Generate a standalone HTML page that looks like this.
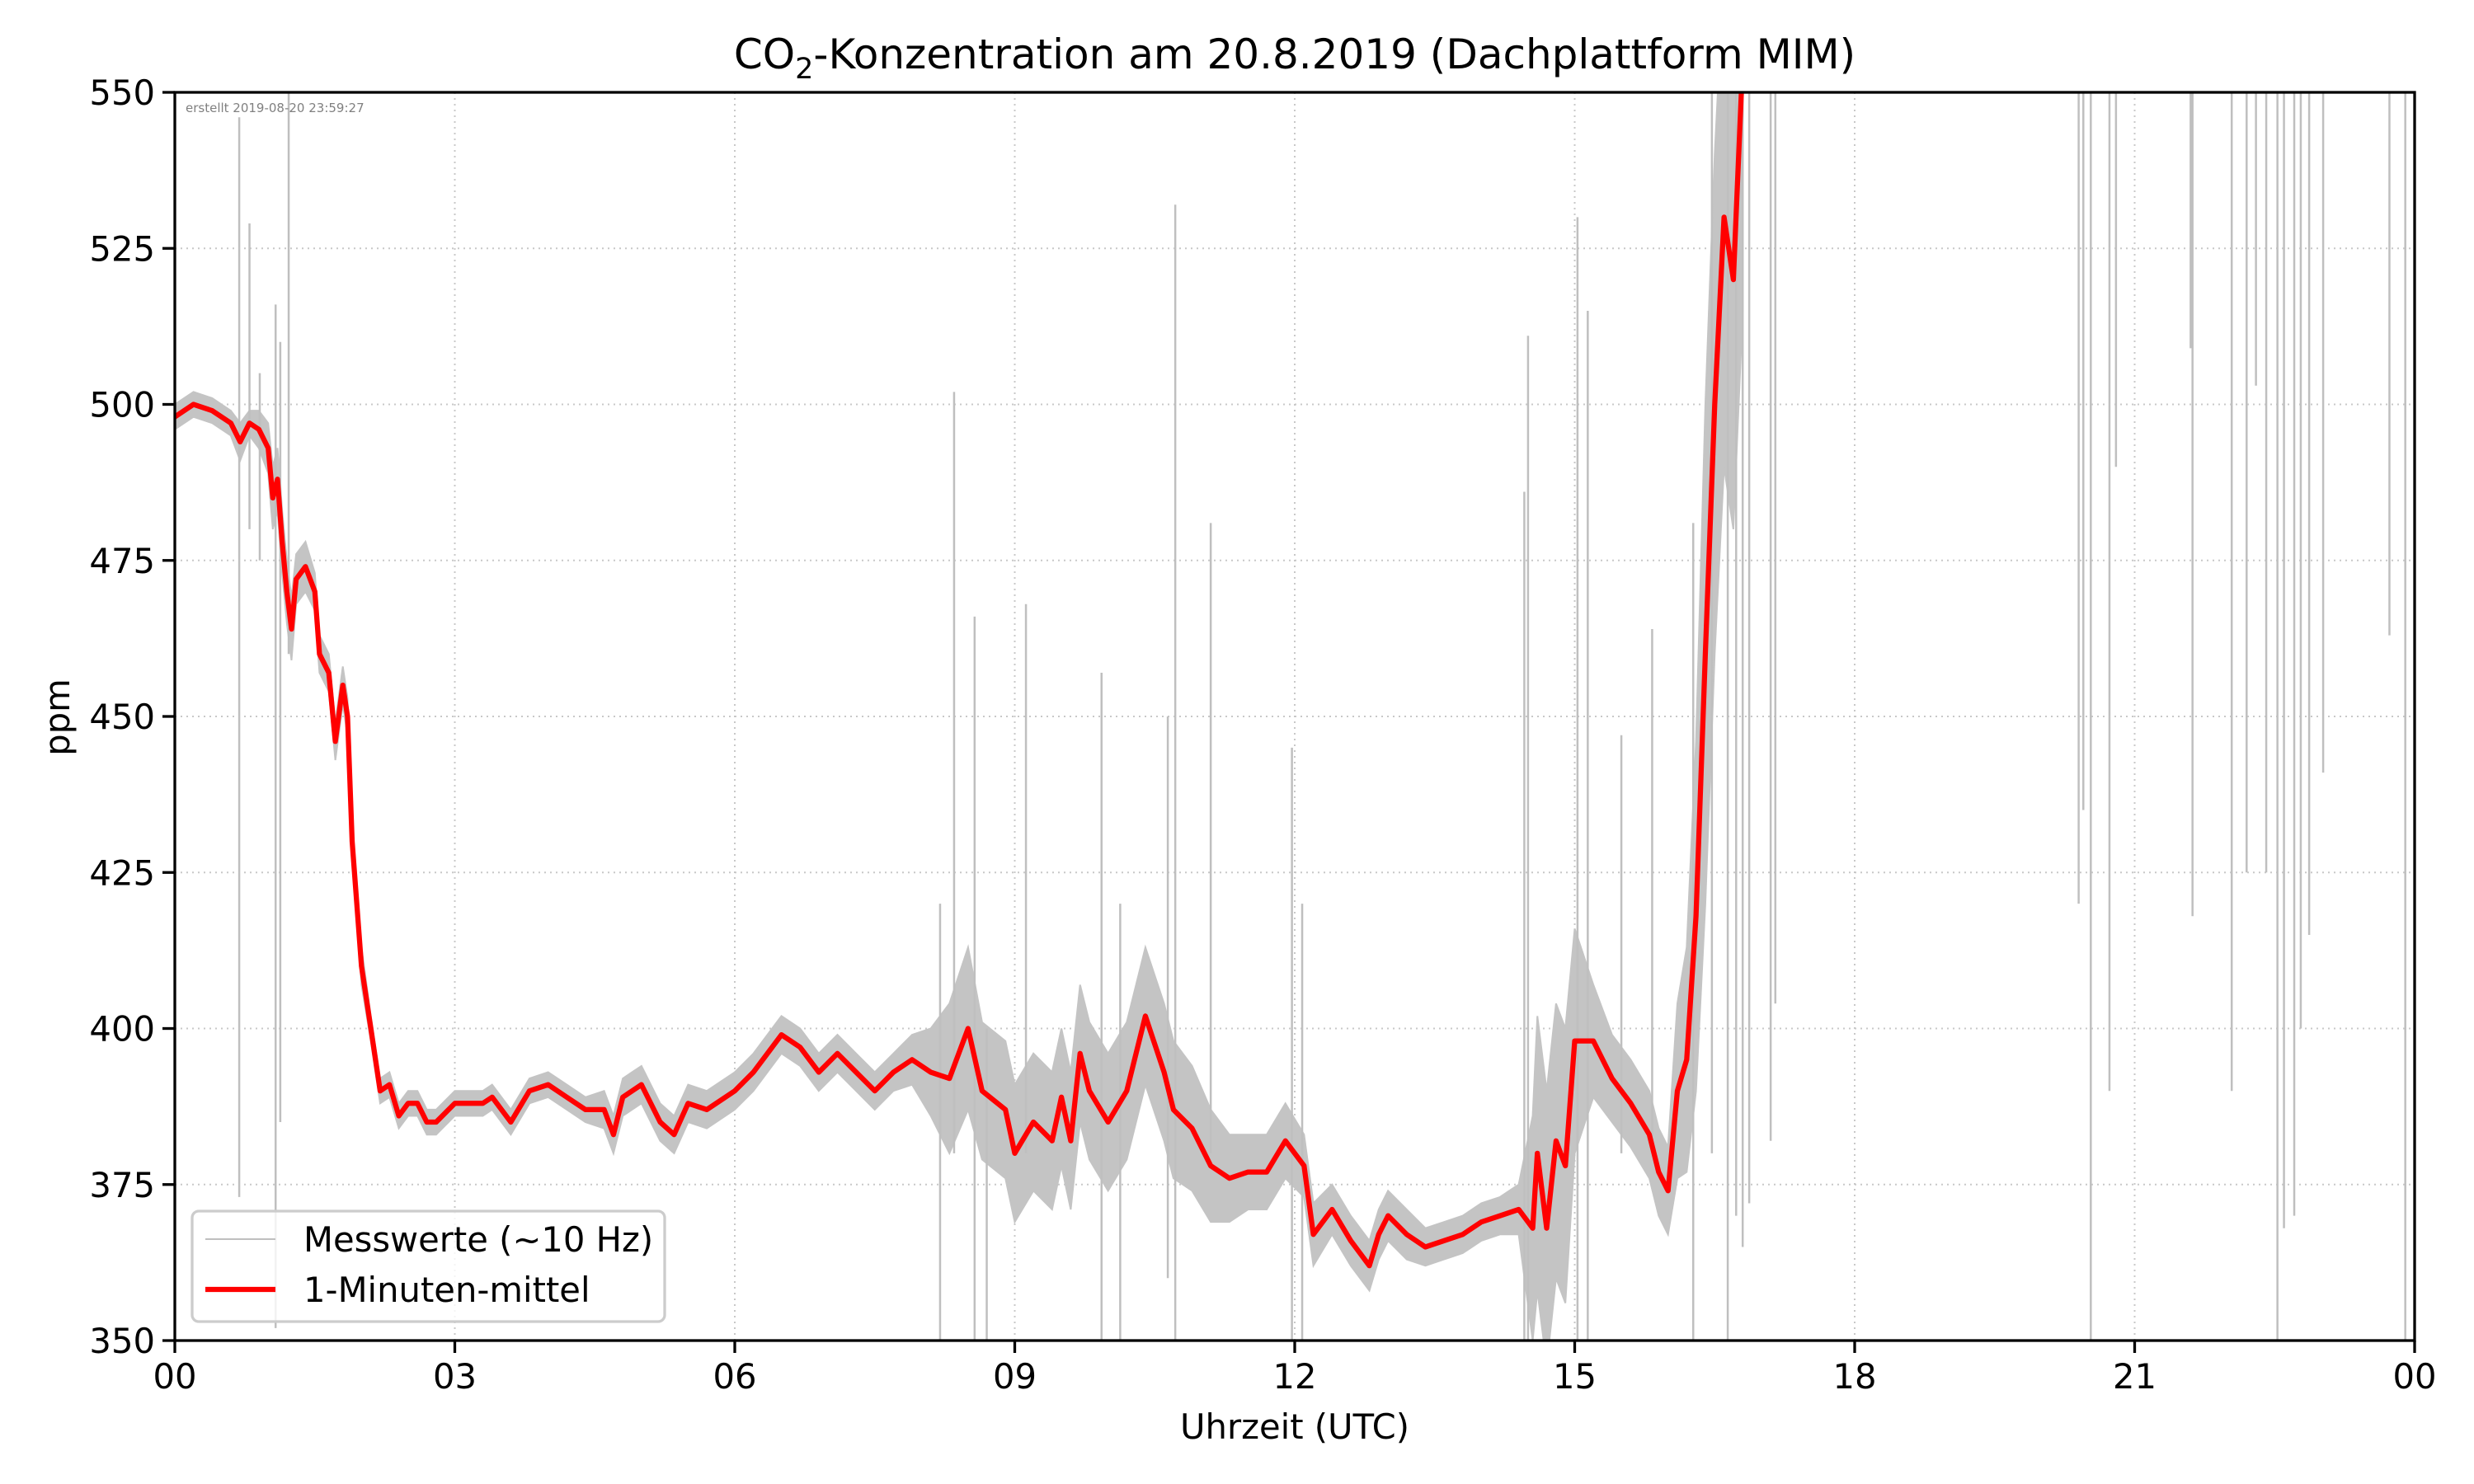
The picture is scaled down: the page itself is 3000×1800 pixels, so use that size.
<!DOCTYPE html>
<html><head><meta charset="utf-8"><style>
html,body{margin:0;padding:0;background:#fff}
svg{display:block;font-family:"DejaVu Sans","Liberation Sans",sans-serif}
</style></head><body>
<svg id="chart" width="3000" height="1800" viewBox="0 0 3000 1800" xmlns="http://www.w3.org/2000/svg">
<defs><clipPath id="clip"><rect x="212" y="112" width="2716" height="1514"/></clipPath></defs>
<rect width="3000" height="1800" fill="#fff"/>
<g id="grid"></g>
<g id="gray" clip-path="url(#clip)"></g>
<g id="red" clip-path="url(#clip)"></g>
<rect x="212" y="112" width="2716" height="1514" fill="none" stroke="#000" stroke-width="3.3"/>
<g id="ticks"></g>
<text x="225" y="136" font-size="15" fill="#808080">erstellt 2019-08-20 23:59:27</text>
<text x="1570" y="83" font-size="50" text-anchor="middle">CO<tspan font-size="35" dy="12">2</tspan><tspan dy="-12">-Konzentration am 20.8.2019 (Dachplattform MIM)</tspan></text>
<text x="1570" y="1745" font-size="41.7" text-anchor="middle">Uhrzeit (UTC)</text>
<text x="0" y="0" font-size="41.7" text-anchor="middle" transform="translate(84,870) rotate(-90)">ppm</text>
<g>
<rect x="233" y="1469" width="573" height="134" rx="8" fill="#fff" fill-opacity="0.8" stroke="#ccc" stroke-width="3.3"/>
<line x1="249" y1="1503" x2="334" y2="1503" stroke="#bfbfbf" stroke-width="2"/>
<text x="368" y="1518" font-size="41.7">Messwerte (~10 Hz)</text>
<line x1="249" y1="1564" x2="334" y2="1564" stroke="#ff0000" stroke-width="6.25"/>
<text x="368" y="1579" font-size="41.7">1-Minuten-mittel</text>
</g>
</svg>
<script>
const xTickLabels=["00","03","06","09","12","15","18","21","00"];
const xTickHours=[0,3,6,9,12,15,18,21,24];
const yTicks=[350,375,400,425,450,475,500,525,550];
const meanHours=[0,0.2,0.4,0.6,0.7,0.8,0.9,1.0,1.05,1.1,1.15,1.2,1.25,1.3,1.4,1.5,1.55,1.65,1.72,1.8,1.85,1.9,2.0,2.1,2.2,2.3,2.4,2.5,2.6,2.7,2.8,3.0,3.3,3.4,3.6,3.8,4.0,4.2,4.4,4.6,4.7,4.8,5.0,5.2,5.35,5.5,5.7,6.0,6.2,6.4,6.5,6.7,6.9,7.1,7.3,7.5,7.7,7.9,8.1,8.3,8.5,8.65,8.9,9.0,9.2,9.4,9.5,9.6,9.7,9.8,10.0,10.2,10.4,10.6,10.7,10.9,11.1,11.3,11.5,11.7,11.9,12.1,12.2,12.4,12.6,12.8,12.9,13.0,13.2,13.4,13.6,13.8,14.0,14.2,14.4,14.55,14.6,14.7,14.8,14.9,15.0,15.2,15.4,15.6,15.8,15.9,16.0,16.1,16.2,16.3,16.4,16.5,16.6,16.7,16.8];
const meanPpm=[498,500,499,497,494,497,496,493,485,488,478,470,464,472,474,470,460,457,446,455,450,430,410,400,390,391,386,388,388,385,385,388,388,389,385,390,391,389,387,387,383,389,391,385,383,388,387,390,393,397,399,397,393,396,393,390,393,395,393,392,400,390,387,380,385,382,389,382,396,390,385,390,402,393,387,384,378,376,377,377,382,378,367,371,366,362,367,370,367,365,366,367,369,370,371,368,380,368,382,378,398,398,392,388,383,377,374,390,395,418,460,500,530,520,555];
const noiseAmp=[2,2,2,2,3,2,3,4,5,5,5,5,5,4,4,3,3,3,3,3,3,3,3,2,2,2,2,2,2,2,2,2,2,2,2,2,2,2,2,3,3,3,3,3,3,3,3,3,3,3,3,3,3,3,3,3,3,4,7,12,13,11,11,11,11,11,11,11,11,11,11,11,11,11,11,10,9,7,6,6,6,5,5,4,4,4,4,4,4,3,3,3,3,3,4,18,22,22,22,22,18,9,7,7,7,7,7,14,18,28,40,40,40,40,40];
const spikeHours=[0.69,0.8,0.91,1.08,1.13,1.22,8.2,8.35,8.57,8.7,9.12,9.93,10.13,10.64,10.72,11.1,11.97,12.08,14.46,14.5,15.03,15.14,15.5,15.83,16.27,16.47,16.64,16.73,16.8,16.87,17.1,17.15,20.4,20.45,20.53,20.73,20.8,21.6,21.62,22.04,22.2,22.3,22.41,22.53,22.6,22.71,22.78,22.87,23.02,23.73,23.9];
const spikeLow=[373,480,475,352,385,460,350,380,350,350,380,350,350,360,350,380,350,350,350,350,350,350,380,380,350,380,350,370,365,372,382,404,420,435,350,390,490,509,418,390,425,503,425,350,368,370,400,415,441,463,350];
const spikeHigh=[546,529,505,516,510,550,420,502,466,400,468,457,420,450,532,481,445,420,486,511,530,515,447,464,481,550,550,550,550,550,550,550,550,550,550,550,550,550,550,550,550,550,550,550,550,550,550,550,550,550,550];
const L=212,R=2928,T=112,B=1626;
const xs=h=>L+h/24*(R-L);
const ys=v=>B-(v-350)/200*(B-T);
const NS="http://www.w3.org/2000/svg";
function mk(tag,attrs,parent){const e=document.createElementNS(NS,tag);for(const k in attrs)e.setAttribute(k,attrs[k]);parent.appendChild(e);return e;}
const grid=document.getElementById('grid'),ticks=document.getElementById('ticks');
xTickHours.forEach((h,i)=>{
 const g=mk('line',{x1:xs(h),x2:xs(h),y1:T,y2:B,stroke:'#c8c8c8','stroke-width':2,'stroke-dasharray':'2,5'},grid);
 
 
 const t=mk('line',{x1:xs(h),x2:xs(h),y1:B,y2:B+15,stroke:'#000','stroke-width':3.3},ticks);
 
 
 const tx=mk('text',{x:xs(h),y:B+58,'font-size':41.7,'text-anchor':'middle'},ticks);
 tx.textContent=xTickLabels[i];
 
 
});
yTicks.forEach(v=>{
 const g=mk('line',{x1:L,x2:R,y1:ys(v),y2:ys(v),stroke:'#c8c8c8','stroke-width':2,'stroke-dasharray':'2,5'},grid);
 
 
 const t=mk('line',{x1:L-15,x2:L,y1:ys(v),y2:ys(v),stroke:'#000','stroke-width':3.3},ticks);
 
 
 const tx=mk('text',{x:L-24,y:ys(v)+15,'font-size':41.7,'text-anchor':'end'},ticks);
 tx.textContent=v;
 
 
});
const gray=document.getElementById('gray');
let up='',dn='';
meanHours.forEach((h,i)=>{up+=(i?'L':'M')+xs(h)+','+ys(meanPpm[i]+noiseAmp[i]);});
for(let i=meanHours.length-1;i>=0;i--){dn+='L'+xs(meanHours[i])+','+ys(meanPpm[i]-noiseAmp[i]);}
const band=mk('path',{d:up+dn+'Z',fill:'#c4c4c4',stroke:'#c4c4c4','stroke-width':2},gray);


spikeHours.forEach((h,i)=>{
 const s=mk('line',{x1:xs(h),x2:xs(h),y1:ys(spikeLow[i]),y2:ys(spikeHigh[i]),stroke:'#bfbfbf','stroke-width':2.5},gray);
 
 
});
let d='';meanHours.forEach((h,i)=>{d+=(i?'L':'M')+xs(h).toFixed(1)+','+ys(meanPpm[i]).toFixed(1);});
const rl=mk('path',{d:d,fill:'none',stroke:'#ff0000','stroke-width':6.25,'stroke-linejoin':'round'},document.getElementById('red'));


</script>
</body></html>
